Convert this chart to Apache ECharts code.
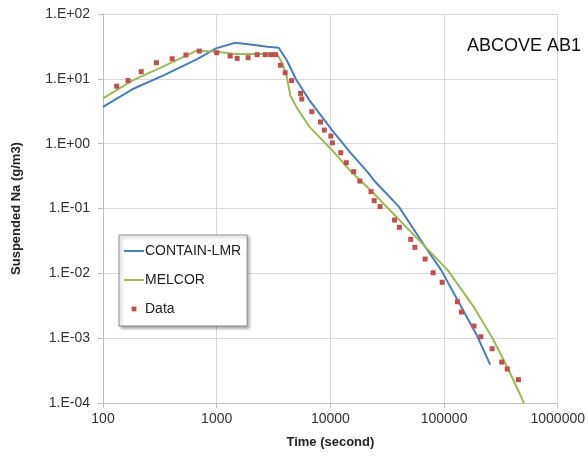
<!DOCTYPE html>
<html>
<head>
<meta charset="utf-8">
<script src="https://cdn.jsdelivr.net/npm/echarts@6/dist/echarts.min.js"></script>
<style>
  html, body { margin: 0; padding: 0; background: #fff; }
  #main { width: 588px; height: 462px; }
</style>
</head>
<body>
<div id="main"></div>
<script>
// CONTAIN-LMR curve (time s, g/m3)
var containX = [100, 181, 348, 667, 986, 1455, 2150, 2790, 3510, 4130, 5020, 6530, 10300, 15200, 21100, 24000, 40000, 68200, 94400, 131000, 193600, 254600];
var containY = [3.7, 6.9, 11.5, 20, 29.5, 36, 33.2, 31.3, 30.2, 19.5, 9.6, 4.7, 1.63, 0.71, 0.37, 0.275, 0.107, 0.0257, 0.0112, 0.0039, 0.00112, 0.00039];

// MELCOR curve
var melcorX = [100, 181, 348, 667, 1000, 1455, 2460, 3400, 3800, 4130, 4450, 5020, 6530, 10300, 15200, 22500, 33300, 70500, 107700, 181000, 268000, 370000, 505000];
var melcorY = [5.0, 9.4, 15.8, 27.2, 26.2, 24.1, 24.1, 24.1, 17, 10.8, 5.5, 3.7, 1.83, 0.8, 0.37, 0.193, 0.095, 0.0243, 0.0112, 0.0031, 0.00099, 0.000323, 0.0001];

// measured data
var dataX = [132, 166, 217, 295, 406, 537, 703, 1000, 1313, 1514, 1890, 2270, 2670, 2985, 3290, 3630, 4000, 4560,
  5470, 5610, 6870, 8190, 8850, 10090, 10400, 12350, 13800, 16040, 18150, 22800, 24300, 27350,
  36700, 40500, 50900, 55400, 68200, 80200, 96200, 131000, 142300, 183600, 210500, 264800, 321700, 359500, 451000];
var dataY = [7.7, 9.4, 12.9, 17.7, 20.4, 23.3, 26.8, 25.3, 22.5, 20.7, 21.2, 23.6, 23.6, 23.6, 23.6, 16.2, 12.4, 9.4,
  5.97, 4.89, 3.11, 2.16, 1.62, 1.31, 1.03, 0.726, 0.508, 0.37, 0.265, 0.182, 0.132, 0.107,
  0.0664, 0.0513, 0.0334, 0.0252, 0.0166, 0.0102, 0.00727, 0.00365, 0.00253, 0.00154, 0.00105, 0.000687, 0.000428, 0.000334, 0.000229];

function pairs(xs, ys) {
  return xs.map(function (x, i) { return [x, ys[i]]; });
}

var myChart = echarts.init(document.getElementById('main'));
var font = 'Liberation Sans, Arial, sans-serif';
var gridColor = '#d9d9d9';
var lineIcon = 'path://M0,0h20v2h-20z';

var option = {
  animation: false,
  backgroundColor: '#fff',
  title: {
    text: 'ABCOVE AB1',
    right: 2,
    top: 32,
    textStyle: { fontFamily: font, fontSize: 18, fontWeight: 'normal', color: '#111' }
  },
  legend: {
    orient: 'vertical',
    left: 119,
    top: 235,
    padding: [9, 6, 10, 4],
    itemGap: 15,
    itemWidth: 20,
    itemHeight: 6,
    symbolKeepAspect: true,
    backgroundColor: '#fff',
    borderColor: '#8c8c8c',
    borderWidth: 1,
    shadowColor: 'rgba(0,0,0,0.35)',
    shadowBlur: 3,
    shadowOffsetX: 2,
    shadowOffsetY: 2,
    textStyle: { fontFamily: font, fontSize: 14, color: '#222', padding: [0, 0, 0, -4] },
    data: [
      { name: 'CONTAIN-LMR', icon: lineIcon },
      { name: 'MELCOR', icon: lineIcon },
      { name: 'Data' }
    ]
  },
  grid: { left: 103, right: 14, top: 14, bottom: 59 },
  xAxis: {
    type: 'log',
    logBase: 10,
    min: 100,
    max: 1000000,
    interval: 1,
    name: 'Time (second)',
    nameLocation: 'middle',
    nameGap: 33,
    nameTextStyle: { fontFamily: font, fontSize: 13, fontWeight: 'bold', color: '#222' },
    axisLine: { show: true, lineStyle: { color: '#bfbfbf' } },
    axisTick: { show: true, length: 5, lineStyle: { color: '#bfbfbf' } },
    splitLine: { show: true, lineStyle: { color: gridColor } },
    minorTick: { show: false },
    axisLabel: {
      fontFamily: font,
      fontSize: 14,
      color: '#333',
      margin: 9,
      formatter: function (v) { return String(Math.round(v)); }
    }
  },
  yAxis: {
    type: 'log',
    logBase: 10,
    min: 0.0001,
    max: 100,
    interval: 1,
    name: 'Suspended Na (g/m3)',
    nameLocation: 'middle',
    nameGap: 80,
    nameTextStyle: { fontFamily: font, fontSize: 13, fontWeight: 'bold', color: '#222' },
    axisLine: { show: true, lineStyle: { color: '#bfbfbf' } },
    axisTick: { show: true, length: 5, lineStyle: { color: '#bfbfbf' } },
    splitLine: { show: true, lineStyle: { color: gridColor } },
    axisLabel: {
      fontFamily: font,
      fontSize: 14,
      color: '#333',
      margin: 13,
      formatter: function (v) {
        var e = Math.round(Math.log10(v));
        var a = Math.abs(e);
        return '1.E' + (e < 0 ? '-' : '+') + (a < 10 ? '0' : '') + a;
      }
    }
  },
  series: [
    {
      name: 'CONTAIN-LMR',
      type: 'line',
      symbol: 'none',
      color: '#4a7ebb',
      lineStyle: { width: 2, color: '#4a7ebb' },
      data: pairs(containX, containY)
    },
    {
      name: 'MELCOR',
      type: 'line',
      symbol: 'none',
      color: '#9bbb59',
      lineStyle: { width: 2, color: '#9bbb59' },
      data: pairs(melcorX, melcorY)
    },
    {
      name: 'Data',
      type: 'line',
      symbol: 'rect',
      symbolSize: 5,
      showSymbol: true,
      color: '#c0504d',
      itemStyle: { color: '#c0504d' },
      lineStyle: { opacity: 0 },
      data: pairs(dataX, dataY),
      z: 5
    }
  ]
};

myChart.setOption(option);
</script>
</body>
</html>
